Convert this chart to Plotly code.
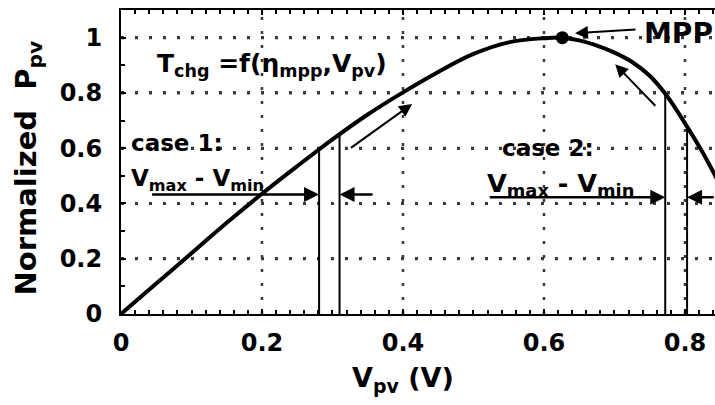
import plotly.graph_objects as go

# Normalized PV power versus PV voltage
v_pv = [0.0, 0.05, 0.10, 0.15, 0.20, 0.25, 0.30, 0.35, 0.40, 0.45, 0.50,
        0.55, 0.60, 0.626, 0.65, 0.675, 0.70, 0.725, 0.75, 0.775, 0.80,
        0.825, 0.85]
p_norm = [0.0, 0.11, 0.22, 0.33, 0.435, 0.535, 0.632, 0.722, 0.802, 0.876, 0.941,
          0.983, 0.998, 1.0, 0.990, 0.971, 0.946, 0.912, 0.862, 0.787, 0.690,
          0.585, 0.465]

# Maximum power point
mpp_v = [0.626]
mpp_p = [1.0]

# Voltage windows (V_min, V_max) for the two cases, and curve power there
case1_v = [0.281, 0.310]
case1_p = [0.595, 0.650]
case2_v = [0.772, 0.803]
case2_p = [0.794, 0.677]

# Axis ticks
x_ticks = [0, 0.2, 0.4, 0.6, 0.8]
x_labels = ["0", "0.2", "0.4", "0.6", "0.8"]
y_ticks = [0, 0.2, 0.4, 0.6, 0.8, 1.0]
y_labels = ["0", "0.2", "0.4", "0.6", "0.8", "1"]

X_RANGE = [0, 0.8426]
Y_RANGE = [0, 1.1]

FONT = "DejaVu Sans"
BLACK = "#000000"
GRID = "#3a3a3a"
GRID_DASH = "3,11"

fig = go.Figure()

# dotted grid at the major ticks
for gx in x_ticks[1:]:
    fig.add_trace(go.Scatter(
        x=[gx, gx], y=Y_RANGE, mode="lines",
        line=dict(color=GRID, width=2.5, dash=GRID_DASH),
        hoverinfo="skip", showlegend=False,
    ))
for gy in y_ticks[1:]:
    fig.add_trace(go.Scatter(
        x=X_RANGE, y=[gy, gy], mode="lines",
        line=dict(color=GRID, width=3, dash=GRID_DASH),
        hoverinfo="skip", showlegend=False,
    ))

fig.add_trace(go.Scatter(
    x=v_pv, y=p_norm, mode="lines",
    line=dict(color=BLACK, width=4, shape="spline", smoothing=1.0),
    hoverinfo="skip", showlegend=False,
))

# vertical window boundaries, from the axis up to the curve
for vs, ps in ((case1_v, case1_p), (case2_v, case2_p)):
    for v, p in zip(vs, ps):
        fig.add_trace(go.Scatter(
            x=[v, v], y=[0, p], mode="lines",
            line=dict(color=BLACK, width=2),
            hoverinfo="skip", showlegend=False,
        ))

fig.add_trace(go.Scatter(
    x=mpp_v, y=mpp_p, mode="markers",
    marker=dict(color=BLACK, size=13),
    hoverinfo="skip", showlegend=False,
))


def arrow(x, y, ax, ay, width=2.0, size=1.3):
    fig.add_annotation(
        x=x, y=y, ax=ax, ay=ay, xref="x", yref="y", axref="x", ayref="y",
        text="", showarrow=True, arrowhead=2, arrowsize=size,
        arrowwidth=width, arrowcolor=BLACK, standoff=0, startstandoff=0,
    )


# converging arrows marking each window
arrow(case1_v[0], 0.432, 0.042, 0.432, width=2.5, size=1.2)
arrow(case1_v[1], 0.432, 0.359, 0.432, width=2.5, size=1.2)
arrow(case2_v[0], 0.422, 0.521, 0.422, width=2.5, size=1.2)
arrow(case2_v[1], 0.422, 0.843, 0.422, width=2.5, size=1.2)

# direction of travel towards the MPP
arrow(0.413, 0.76, 0.324, 0.597, width=2, size=1.3)
arrow(0.701, 0.904, 0.760, 0.748, width=2, size=1.3)
arrow(0.644, 1.016, 0.732, 1.030, width=2, size=1.3)


def label(text, x, y, size, xref="x", yref="y", xanchor="left", angle=0):
    fig.add_annotation(
        x=x, y=y, xref=xref, yref=yref, text=text, showarrow=False,
        xanchor=xanchor, yanchor="middle", textangle=angle,
        font=dict(family=FONT, size=size, color=BLACK, weight="bold"),
    )


label("MPP", 0.7395, 1.015, 28)
label("T<sub>chg</sub> =f(\u03b7<sub>mpp</sub>,V<sub>pv</sub>)", 0.048, 0.90, 25)
label("case 1:", 0.012, 0.617, 23)
label("V<sub>max</sub> - V<sub>min</sub>", 0.012, 0.484, 23)
label("case 2:", 0.537, 0.602, 23)
label("V<sub>max</sub> - V<sub>min</sub>", 0.517, 0.469, 25.5)

# axis titles
label("V<sub>pv</sub> (V)", 0.4, -0.217, 27, yref="paper", xanchor="center")
label("Normalized\u00a0\u00a0P<sub>pv</sub>", -0.156, 0.48, 29,
      xref="paper", yref="paper", xanchor="center", angle=-90)

axis_common = dict(
    showline=True, linecolor=BLACK, linewidth=2,
    ticks="inside", ticklen=5, tickwidth=1.5, tickcolor=BLACK,
    zeroline=False,
    tickfont=dict(family=FONT, size=24, color=BLACK, weight="bold"),
)

fig.update_xaxes(
    **axis_common,
    showgrid=False,
    range=X_RANGE, tickvals=x_ticks, ticktext=x_labels,
    mirror="allticks", ticklabelstandoff=6,
    minor=dict(dtick=0.02, ticks="inside", ticklen=4, tickcolor=BLACK,
               tickwidth=1.5),
)
fig.update_yaxes(
    **axis_common,
    showgrid=True, gridcolor=GRID, gridwidth=2.5, griddash=GRID_DASH,
    range=Y_RANGE, tickvals=y_ticks, ticktext=y_labels,
    ticklabelstandoff=12,
    minor=dict(dtick=0.1, ticks="inside", ticklen=4, tickcolor=BLACK,
               tickwidth=1.5, showgrid=False),
)

fig.update_layout(
    width=715, height=405,
    margin=dict(l=121, r=0, t=10, b=91, autoexpand=False),
    plot_bgcolor="white", paper_bgcolor="white",
    showlegend=False,
)

fig.write_html("out.html")
